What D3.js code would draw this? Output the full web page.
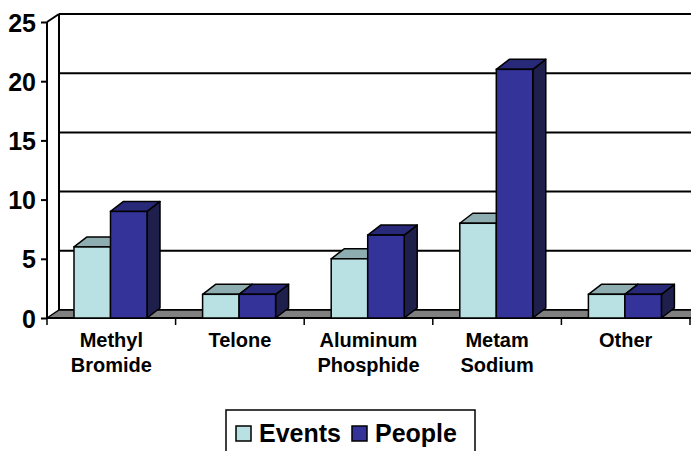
<!DOCTYPE html>
<html>
<head>
<meta charset="utf-8">
<script src="https://cdn.jsdelivr.net/npm/d3@7"></script>
<style>
  body { margin: 0; background: #fff; }
  text { font-family: "Liberation Sans", Arial, sans-serif; font-weight: bold; fill: #000; }
</style>
</head>
<body>
<div id="chart"></div>
<script>
var categories = [["Methyl", "Bromide"], ["Telone"], ["Aluminum", "Phosphide"], ["Metam", "Sodium"], ["Other"]];
var series = ["Events", "People"];
var events = [6, 2, 5, 8, 2];
var people = [9, 2, 7, 21, 2];
var yTicks = [0, 5, 10, 15, 20, 25];

var colors = {
  Events: {front: "#b9e0e3", top: "#8eadb0", side: "#6f8a8c"},
  People: {front: "#333399", top: "#29297a", side: "#1f1f4c"}
};

var width = 691, height = 451;
// floor / back wall depth and bar depth
var dx = 12, dy = -8;
var bdx = 13, bdy = -10;

var svg = d3.select("#chart").append("svg").attr("width", width).attr("height", height);

var catNames = categories.map(function(c) { return c.join(" "); });
var x = d3.scaleBand().domain(catNames).range([47, 690]);
var xs = d3.scaleBand().domain(series).range([27, 100]);
var y = d3.scaleLinear().domain([0, 25]).range([318, 22]);

// back wall gridlines
svg.append("g").selectAll("line").data(yTicks).enter().append("line")
  .attr("x1", 47 + dx).attr("x2", width)
  .attr("y1", function(d) { return y(d) + dy; })
  .attr("y2", function(d) { return y(d) + dy; })
  .attr("stroke", "#000").attr("stroke-width", 2);

// back wall left edge
svg.append("line")
  .attr("x1", 47 + dx).attr("x2", 47 + dx)
  .attr("y1", y(25) + dy).attr("y2", y(0) + dy)
  .attr("stroke", "#000").attr("stroke-width", 2);

// floor
svg.append("path")
  .attr("d", "M47," + y(0) + "L" + (47 + dx) + "," + (y(0) + dy) + "L" + (width + 20) + "," + (y(0) + dy) + "L" + (width + 20) + "," + y(0) + "Z")
  .attr("fill", "#808080").attr("stroke", "#000").attr("stroke-width", 1.5);

// front y axis with ticks
svg.append("line")
  .attr("x1", 47).attr("x2", 47).attr("y1", y(25)).attr("y2", y(0))
  .attr("stroke", "#000").attr("stroke-width", 2);
svg.append("line")
  .attr("x1", 47).attr("x2", 47 + dx).attr("y1", y(25)).attr("y2", y(25) + dy)
  .attr("stroke", "#000").attr("stroke-width", 2);

var yAxis = svg.append("g").attr("transform", "translate(47,0)")
  .call(d3.axisLeft(y).tickValues(yTicks).tickSize(6).tickPadding(5));
yAxis.select(".domain").remove();
yAxis.selectAll(".tick line").attr("stroke", "#000").attr("stroke-width", 2);
yAxis.selectAll(".tick text").attr("font-size", 25).attr("font-family", "Liberation Sans, Arial, sans-serif")
  .attr("font-weight", "bold").attr("fill", "#000").attr("dy", "0.36em");

// front x axis
svg.append("line").attr("x1", 47).attr("x2", width).attr("y1", y(0)).attr("y2", y(0))
  .attr("stroke", "#000").attr("stroke-width", 2);
var bounds = catNames.map(function(c) { return x(c); }).concat([x.range()[1]]);
svg.append("g").selectAll("line").data(bounds).enter().append("line")
  .attr("x1", function(d) { return d; }).attr("x2", function(d) { return d; })
  .attr("y1", y(0)).attr("y2", y(0) + 7)
  .attr("stroke", "#000").attr("stroke-width", 1.5);

// bars
var barData = [];
catNames.forEach(function(c, i) {
  barData.push({cat: c, s: "Events", v: events[i]});
  barData.push({cat: c, s: "People", v: people[i]});
});

var bars = svg.append("g").selectAll("g").data(barData).enter().append("g");
bars.each(function(d) {
  var g = d3.select(this);
  var x0 = x(d.cat) + xs(d.s), w = xs.bandwidth();
  var yt = y(d.v), yb = y(0);
  var c = colors[d.s];
  g.append("path")
    .attr("d", "M" + (x0 + w) + "," + yb + "L" + (x0 + w + bdx) + "," + (yb + bdy) + "L" + (x0 + w + bdx) + "," + (yt + bdy) + "L" + (x0 + w) + "," + yt + "Z")
    .attr("fill", c.side).attr("stroke", "#000").attr("stroke-width", 1.5).attr("stroke-linejoin", "round");
  g.append("path")
    .attr("d", "M" + x0 + "," + yt + "L" + (x0 + bdx) + "," + (yt + bdy) + "L" + (x0 + w + bdx) + "," + (yt + bdy) + "L" + (x0 + w) + "," + yt + "Z")
    .attr("fill", c.top).attr("stroke", "#000").attr("stroke-width", 1.5).attr("stroke-linejoin", "round");
  g.append("rect")
    .attr("x", x0).attr("y", yt).attr("width", w).attr("height", yb - yt)
    .attr("fill", c.front).attr("stroke", "#000").attr("stroke-width", 1.5);
});

// category labels
var labels = svg.append("g").selectAll("text").data(categories).enter().append("text")
  .attr("x", function(d) { return x(d.join(" ")) + x.bandwidth() / 2; })
  .attr("y", 347)
  .attr("text-anchor", "middle")
  .attr("font-size", 20);
labels.selectAll("tspan").data(function(d) { return d; }).enter().append("tspan")
  .attr("x", function() { return d3.select(this.parentNode).attr("x"); })
  .attr("dy", function(d, i) { return i ? 25 : 0; })
  .text(function(d) { return d; });

// legend
var legend = svg.append("g");
legend.append("rect").attr("x", 226).attr("y", 410).attr("width", 249).attr("height", 60)
  .attr("fill", "#fff").attr("stroke", "#000").attr("stroke-width", 1.5);
var legX = [236, 352];
var items = legend.selectAll("g").data(series).enter().append("g")
  .attr("transform", function(d, i) { return "translate(" + legX[i] + ",426)"; });
items.append("rect").attr("width", 15).attr("height", 15)
  .attr("fill", function(d) { return colors[d].front; })
  .attr("stroke", "#000").attr("stroke-width", 1.5);
items.append("text").attr("x", 23).attr("y", 16).attr("font-size", 25).text(function(d) { return d; });
</script>
</body>
</html>
